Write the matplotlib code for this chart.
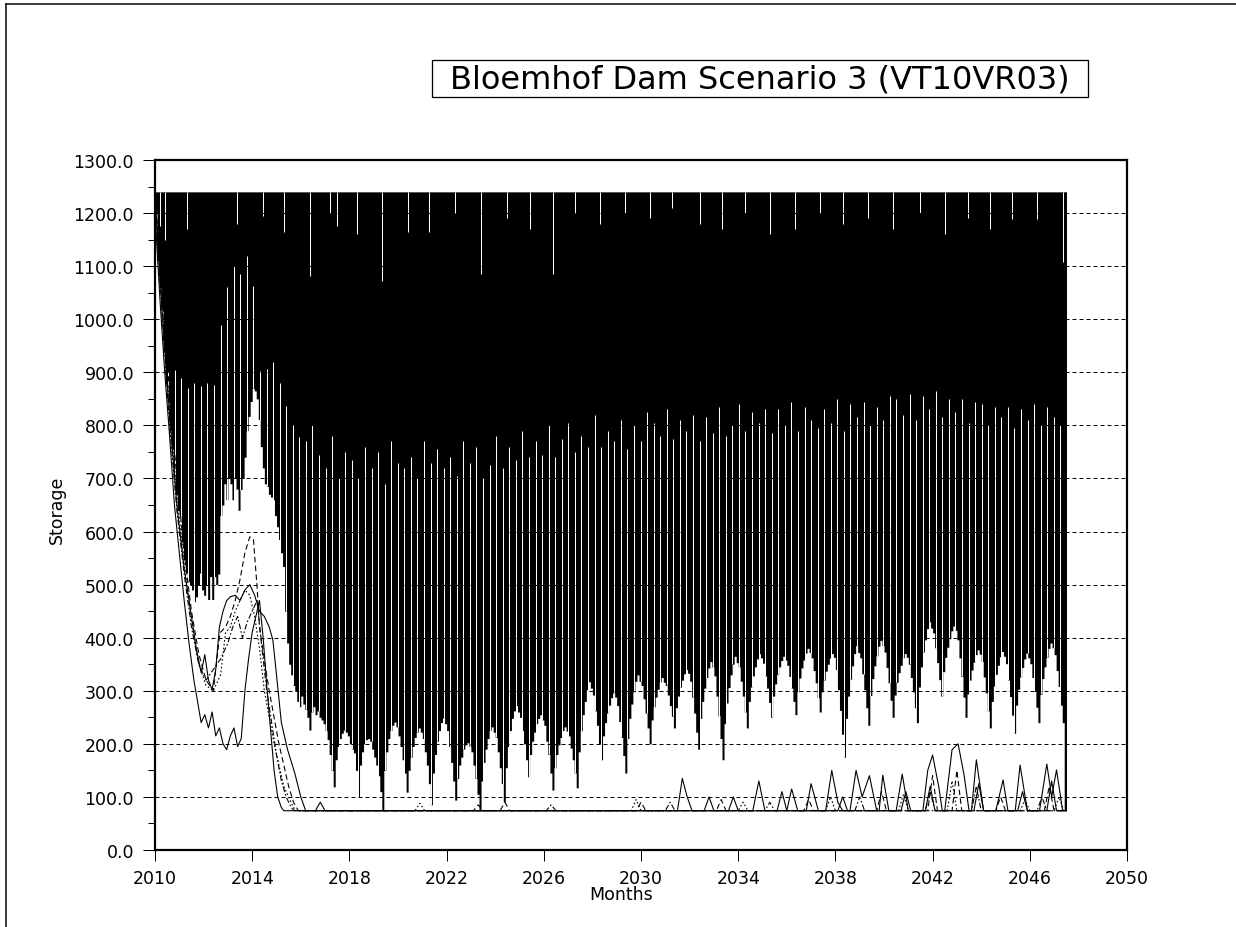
import numpy as np
import matplotlib
matplotlib.use("Agg")
import matplotlib.pyplot as plt
from matplotlib.lines import Line2D
from matplotlib.patches import Rectangle
from matplotlib.ticker import MultipleLocator, FormatStrFormatter

TITLE = "Bloemhof Dam Scenario 3 (VT10VR03)"
FULL_SUPPLY = 1240.0
START_YEAR = 2010
GAP_PITCH = 0.27  # years between the visible gaps in the dense band

# Monthly lower bound of the storage band (million m3), Jan..Dec per row
low_2010s = [
    1200, 1110, 1060, 1020, 940, 880, 845, 790, 755, 704, 670, 640,
    628, 580, 547, 522, 506, 500, 490, 468, 477, 500, 522, 490,
    480, 500, 472, 515, 472, 515, 500, 520, 630, 650, 690, 660,
    700, 690, 660, 700, 680, 640, 679, 700, 740, 790, 817, 845,
    870, 865, 850, 811, 760, 720, 690, 685, 670, 665, 660, 630,
    609, 585, 560, 534, 450, 390, 350, 330, 310, 300, 280, 270,
    290, 275, 265, 250, 226, 260, 270, 255, 262, 250, 245, 238,
    225, 208, 180, 150, 119, 170, 195, 210, 220, 226, 222, 215,
    200, 190, 183, 150, 100, 160, 185, 200, 208, 210, 205, 190,
    175, 160, 140, 110, 74, 150, 185, 210, 225, 235, 241, 232,
]
low_2020s = [
    215, 195, 170, 145, 109, 150, 175, 195, 212, 222, 230, 222,
    210, 185, 160, 125, 85, 145, 180, 205, 225, 240, 249, 238,
    225, 195, 165, 130, 94, 135, 160, 175, 190, 198, 202, 195,
    185, 160, 135, 105, 74, 130, 165, 190, 210, 225, 232, 222,
    212, 185, 155, 125, 91, 155, 195, 225, 248, 262, 272, 260,
    250, 225, 200, 170, 138, 180, 205, 222, 238, 248, 255, 245,
    235, 205, 180, 145, 113, 155, 180, 198, 212, 225, 232, 224,
    215, 192, 170, 145, 117, 185, 225, 255, 280, 302, 317, 305,
    292, 262, 235, 200, 170, 215, 240, 258, 273, 287, 296, 288,
    272, 242, 212, 178, 145, 210, 248, 275, 298, 318, 330, 318,
]
low_2030s = [
    310, 285, 258, 230, 200, 245, 270, 288, 303, 317, 325, 316,
    310, 292, 272, 252, 230, 268, 290, 307, 320, 332, 340, 333,
    318, 288, 258, 222, 190, 248, 280, 305, 325, 343, 355, 345,
    328, 290, 253, 210, 170, 238, 277, 306, 330, 350, 365, 353,
    345, 318, 290, 260, 230, 280, 307, 328, 345, 360, 370, 362,
    352, 328, 305, 278, 250, 290, 313, 331, 345, 357, 365, 358,
    348, 327, 305, 280, 255, 298, 324, 343, 358, 371, 380, 372,
    362, 338, 315, 287, 260, 298, 320, 337, 350, 362, 370, 363,
    340, 302, 263, 218, 175, 248, 290, 322, 347, 370, 385, 372,
    362, 332, 302, 268, 235, 291, 323, 347, 366, 384, 395, 385,
]
low_2040s = [
    373, 344, 315, 282, 250, 292, 316, 334, 348, 362, 370, 363,
    350, 325, 298, 268, 240, 307, 345, 373, 396, 417, 430, 418,
    409, 381, 353, 321, 290, 336, 363, 382, 398, 413, 422, 414,
    396, 362, 327, 288, 250, 294, 320, 339, 354, 368, 377, 369,
    355, 326, 296, 262, 230, 280, 309, 331, 348, 364, 374, 365,
    351, 320, 289, 254, 220, 273, 303, 326, 344, 360, 371, 362,
    351, 325, 299, 269, 240, 293, 323, 345, 363, 380, 390, 381,
    368, 338, 308, 273, 240, 74,
]

# Quarterly level above which the band is fully dense
dense_2010s = [1240, 940, 900, 905, 890, 870, 880, 875, 880, 877, 990, 1060,
               1100, 1032, 1085, 1119, 1062, 902, 906, 919, 880, 836, 800, 779,
               770, 800, 745, 760, 720, 780, 700, 750, 735, 700, 760, 720,
               750, 690, 770, 730]
dense_2020s = [760, 720, 740, 700, 770, 730, 755, 720, 740, 705, 770, 730,
               760, 700, 745, 725, 780, 720, 760, 735, 790, 740, 770, 745,
               800, 740, 775, 750, 805, 750, 780, 760, 820, 760, 790, 770,
               810, 755, 800, 770]
dense_2030s = [825, 770, 805, 780, 830, 775, 810, 790, 820, 770, 815, 785,
               835, 780, 820, 800, 840, 790, 825, 805, 830, 785, 830, 800,
               845, 790, 835, 810, 840, 795, 830, 805, 850, 790, 840, 815,
               845, 800, 835, 810]
dense_2040s = [855, 805, 850, 820, 860, 810, 855, 830, 865, 815, 850, 825,
               850, 805, 845, 820, 840, 800, 835, 815, 835, 795, 830, 810,
               840, 800, 835, 815, 830, 800]

# Months in which the reservoir did not reach full supply: (year, maximum)
spill_dips = [
    (2010.21, 1175), (2010.41, 1150), (2011.32, 1170), (2013.37, 1180),
    (2014.44, 1195), (2015.31, 1165), (2016.38, 1081), (2017.20, 1200),
    (2017.49, 1175), (2018.31, 1160), (2019.34, 1072), (2020.41, 1165),
    (2021.28, 1165), (2022.35, 1200), (2023.42, 1085), (2024.49, 1190),
    (2025.43, 1170), (2026.38, 1085), (2027.28, 1200), (2028.31, 1180),
    (2029.34, 1200), (2030.37, 1190), (2031.28, 1210), (2032.43, 1180),
    (2033.33, 1170), (2034.28, 1200), (2035.31, 1160), (2036.34, 1170),
    (2037.37, 1200), (2038.31, 1180), (2039.34, 1190), (2040.37, 1170),
    (2041.48, 1200), (2042.51, 1160), (2043.46, 1190), (2044.36, 1170),
    (2045.27, 1188), (2046.30, 1188), (2047.37, 1107),
]

# Individual low-storage sequences: (year, storage)
seq_a = [
    (2010.0, 1200), (2010.2, 1040), (2010.4, 900), (2010.6, 780), (2010.8, 650),
    (2011.0, 560), (2011.2, 470), (2011.4, 390), (2011.6, 320), (2011.75, 280),
    (2011.9, 240), (2012.05, 255), (2012.2, 230), (2012.35, 260), (2012.5, 215),
    (2012.65, 230), (2012.8, 200), (2012.95, 189), (2013.1, 215), (2013.25, 230),
    (2013.4, 195), (2013.55, 210), (2013.7, 300), (2013.85, 360), (2014.0, 410),
    (2014.15, 440), (2014.3, 470), (2014.45, 400), (2014.6, 310), (2014.75, 230),
    (2014.9, 150), (2015.05, 100), (2015.2, 80), (2015.3, 74),
    (2016.6, 74), (2016.8, 90), (2017.0, 74), (2031.5, 74), (2031.7, 135),
    (2031.9, 100), (2032.1, 74), (2034.6, 74), (2034.85, 130), (2035.1, 74),
    (2036.0, 74), (2036.2, 115), (2036.45, 74), (2036.8, 74), (2037.0, 125),
    (2037.3, 74), (2037.6, 74), (2037.85, 150), (2038.1, 90), (2038.3, 74),
    (2038.6, 74), (2038.85, 150), (2039.1, 100), (2039.4, 140), (2039.7, 74),
    (2039.8, 74), (2039.95, 141), (2040.2, 74), (2040.5, 74), (2040.75, 143),
    (2041.0, 74), (2041.6, 74), (2041.8, 150), (2042.0, 179), (2042.25, 120),
    (2042.4, 74), (2042.5, 74), (2042.8, 189), (2043.05, 200), (2043.3, 140),
    (2043.5, 74), (2043.6, 74), (2043.8, 170), (2044.1, 74), (2044.6, 74),
    (2044.9, 132), (2045.1, 74), (2045.4, 74), (2045.6, 160), (2045.9, 74),
    (2046.4, 74), (2046.7, 162), (2046.9, 100), (2047.1, 151), (2047.35, 74),
    (2047.46, 74),
]
seq_b = [
    (2010.0, 1230), (2010.3, 1010), (2010.6, 820), (2010.9, 650), (2011.2, 530),
    (2011.5, 440), (2011.7, 380), (2011.9, 334), (2012.05, 368), (2012.2, 320),
    (2012.35, 302), (2012.5, 340), (2012.65, 420), (2012.8, 450), (2012.95, 470),
    (2013.1, 477), (2013.3, 480), (2013.5, 470), (2013.7, 490), (2013.9, 500),
    (2014.1, 480), (2014.3, 450), (2014.5, 440), (2014.7, 420), (2014.85, 396),
    (2015.0, 330), (2015.2, 240), (2015.45, 190), (2015.75, 145), (2016.0, 100),
    (2016.2, 74),
    (2032.6, 74), (2032.8, 100), (2033.0, 74), (2033.6, 74), (2033.8, 100),
    (2034.0, 74), (2035.6, 74), (2035.8, 110), (2036.0, 74), (2038.1, 74),
    (2038.3, 100), (2038.5, 74), (2040.7, 74), (2040.9, 110), (2041.1, 74),
    (2041.7, 74), (2041.9, 120), (2042.1, 74), (2043.7, 74), (2043.9, 125),
    (2044.1, 74), (2045.5, 74), (2045.7, 110), (2045.9, 74), (2046.7, 74),
    (2046.9, 130), (2047.1, 74), (2047.46, 74),
]
seq_c = [
    (2010.0, 1240), (2010.3, 1050), (2010.6, 860), (2010.9, 700), (2011.2, 560),
    (2011.5, 450), (2011.8, 370), (2012.1, 320), (2012.4, 300), (2012.67, 409),
    (2012.9, 420), (2013.1, 440), (2013.3, 470), (2013.5, 510), (2013.7, 560),
    (2013.9, 590), (2014.05, 585), (2014.2, 496), (2014.3, 420), (2014.5, 358),
    (2014.7, 300), (2014.9, 250), (2015.1, 200), (2015.3, 160), (2015.5, 120),
    (2015.7, 90), (2015.9, 74),
    (2023.1, 74), (2023.3, 85), (2023.5, 74), (2024.2, 74), (2024.4, 90),
    (2024.6, 74), (2029.8, 74), (2030.0, 90), (2030.2, 74), (2033.1, 74),
    (2033.3, 95), (2033.5, 74), (2036.7, 74), (2036.9, 95), (2037.1, 74),
    (2039.7, 74), (2039.9, 110), (2040.1, 74), (2041.8, 74), (2042.0, 140),
    (2042.2, 74), (2042.8, 74), (2043.0, 150), (2043.2, 74), (2044.6, 74),
    (2044.8, 100), (2045.0, 74), (2046.6, 74), (2046.8, 120), (2047.0, 74),
    (2047.46, 74),
]
seq_d = [
    (2010.0, 1235), (2010.3, 1020), (2010.6, 830), (2010.9, 670), (2011.2, 540),
    (2011.5, 430), (2011.8, 350), (2012.1, 310), (2012.4, 300), (2012.7, 330),
    (2012.9, 409), (2013.1, 420), (2013.3, 450), (2013.5, 470), (2013.7, 490),
    (2013.9, 480), (2014.1, 440), (2014.3, 380), (2014.5, 300), (2014.7, 250),
    (2014.9, 200), (2015.1, 160), (2015.3, 120), (2015.5, 100), (2015.7, 80),
    (2015.85, 74),
    (2020.7, 74), (2020.9, 88), (2021.1, 74), (2029.6, 74), (2029.8, 95),
    (2030.0, 74), (2034.0, 74), (2034.2, 90), (2034.4, 74), (2037.6, 74),
    (2037.8, 100), (2038.0, 74), (2040.6, 74), (2040.8, 105), (2041.0, 74),
    (2042.6, 74), (2042.8, 130), (2043.0, 74), (2045.6, 74), (2045.8, 95),
    (2046.0, 74), (2047.0, 74), (2047.2, 100), (2047.4, 74), (2047.46, 74),
]
seq_e = [
    (2010.0, 1230), (2010.3, 1000), (2010.6, 800), (2010.9, 640), (2011.2, 520),
    (2011.5, 420), (2011.8, 350), (2012.1, 320), (2012.4, 340), (2012.7, 360),
    (2013.0, 390), (2013.2, 420), (2013.4, 440), (2013.6, 400), (2013.8, 430),
    (2014.0, 450), (2014.2, 470), (2014.4, 380), (2014.6, 300), (2014.8, 240),
    (2015.0, 180), (2015.2, 130), (2015.4, 100), (2015.6, 80), (2015.75, 74),
    (2026.1, 74), (2026.3, 85), (2026.5, 74), (2031.0, 74), (2031.2, 90),
    (2031.4, 74), (2035.1, 74), (2035.3, 90), (2035.5, 74), (2038.8, 74),
    (2039.0, 100), (2039.2, 74), (2041.7, 74), (2041.9, 110), (2042.1, 74),
    (2043.6, 74), (2043.8, 120), (2044.0, 74), (2046.3, 74), (2046.5, 100),
    (2046.7, 74), (2047.46, 74),
]

W, H, DPI = 1236, 928, 100
PX = 72.0 / DPI  # points per pixel

fig = plt.figure(figsize=(W / DPI, H / DPI), dpi=DPI, facecolor="white")
ax = fig.add_axes([155 / W, 1 - 851 / H, (1127 - 155) / W, (851 - 161) / H])

low = np.array(low_2010s + low_2020s + low_2030s + low_2040s, dtype=float)
n = low.size
month_edge = START_YEAR + np.arange(n + 1) / 12.0
end_year = month_edge[-1]

dense_q = np.array(dense_2010s + dense_2020s + dense_2030s + dense_2040s, dtype=float)
dense_m = np.maximum(np.repeat(dense_q, 3)[:n], low)

# Storage band: monthly minimum up to full supply
band = ax.fill_between(month_edge, np.append(low, low[-1]), FULL_SUPPLY,
                       step="post", color="k", linewidth=0, zorder=2)
band.set_antialiased(False)

# Fine gaps in the lower, sparser part of the band
gap_x = np.arange(START_YEAR + GAP_PITCH, end_year - 0.02, GAP_PITCH)
gap_idx = np.clip(((gap_x - START_YEAR) * 12).astype(int), 0, n - 1)
gap_lo = low[gap_idx]
gap_hi = dense_m[gap_idx]
keep = gap_hi > gap_lo
gaps = ax.vlines(gap_x[keep], gap_lo[keep], gap_hi[keep], colors="white",
                 linewidth=1.0 * PX, zorder=2.2)
gaps.set_snap(True)

# Months that stayed below full supply
dip_t = [d[0] for d in spill_dips]
dip_v = [d[1] for d in spill_dips]
dips = ax.vlines(dip_t, dip_v, FULL_SUPPLY, colors="white",
                 linewidth=1.0 * PX, zorder=2.2)
dips.set_snap(True)

# Closing line at the end of the simulation period
ax.vlines([end_year], low[-1], FULL_SUPPLY, colors="k", linewidth=1.0 * PX, zorder=2.3)

styles = [
    (seq_a, "-"),
    (seq_b, "-"),
    (seq_c, (0, (5, 3))),
    (seq_d, (0, (1.5, 2))),
    (seq_e, (0, (5, 2, 1.5, 2))),
]
for seq, ls in styles:
    tt = [p[0] for p in seq]
    vv = [p[1] for p in seq]
    ax.plot(tt, vv, color="k", linewidth=1.1 * PX, linestyle=ls, zorder=4)

ax.set_xlim(2010, 2050)
ax.set_ylim(0, 1300)
ax.set_xticks(np.arange(2010, 2051, 4))
ax.set_yticks(np.arange(0, 1301, 100))
ax.yaxis.set_minor_locator(MultipleLocator(50))
ax.yaxis.set_major_formatter(FormatStrFormatter("%.1f"))

ax.set_axisbelow(False)
ax.grid(axis="y", color="k", linewidth=1.0 * PX, linestyle=(0, (4, 3)))

for sp in ax.spines.values():
    sp.set_linewidth(2.2 * PX)
    sp.set_zorder(5)

ax.tick_params(axis="both", which="major", direction="out", width=1.0 * PX,
               labelsize=12.5, color="k")
ax.tick_params(axis="y", which="major", length=12 * PX, pad=9 * PX)
ax.tick_params(axis="y", which="minor", length=7 * PX, width=1.0 * PX)
ax.tick_params(axis="x", which="major", length=11 * PX, pad=8 * PX)

fig.text(57 / W, 1 - 510 / H, "Storage", rotation=90, ha="center", va="center",
         fontsize=12.5)
fig.text(621 / W, 1 - 895 / H, "Months", ha="center", va="center", fontsize=12.5)

# Title in a framed box
fig.patches.append(Rectangle((432 / W, 1 - 98 / H), (1088 - 432) / W, 37 / H,
                             transform=fig.transFigure, fill=False,
                             edgecolor="k", linewidth=1.3 * PX))
fig.text(760 / W, 1 - 80 / H, TITLE, ha="center", va="center", fontsize=23)

# Page border
fig.lines.append(Line2D([6 / W, 6 / W], [0, 1 - 5 / H], transform=fig.transFigure,
                        color="k", linewidth=1.5 * PX))
fig.lines.append(Line2D([6 / W, 1], [1 - 5 / H, 1 - 5 / H], transform=fig.transFigure,
                        color="k", linewidth=1.5 * PX))

fig.savefig("out.png", dpi=DPI, facecolor="white")
